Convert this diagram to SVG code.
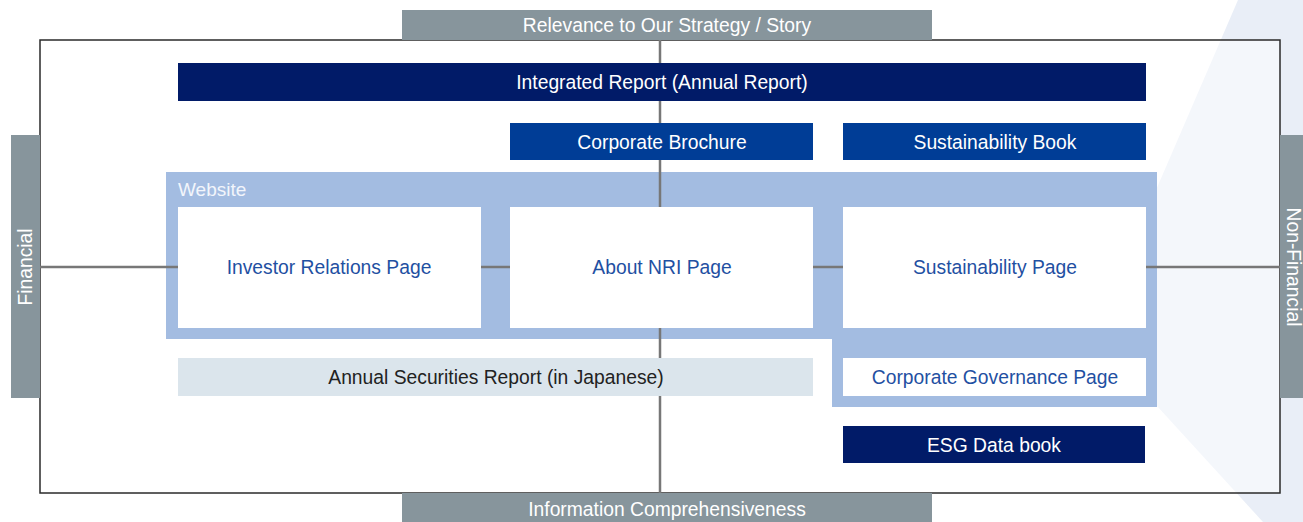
<svg xmlns="http://www.w3.org/2000/svg" width="1303" height="522" viewBox="0 0 1303 522">
<style>
text{font-family:"Liberation Sans",Arial,sans-serif;font-size:19.3px;text-anchor:middle;dominant-baseline:central}
.lab{fill:#87959c}
.labt{fill:#ffffff}
.dark{fill:#011b68}
.mid{fill:#003d96}
.wt{fill:#ffffff}
.page{fill:#ffffff}
.pt{fill:#1f50a2}
.axis{stroke:#777;stroke-width:2.5;fill:none}
</style>
<rect width="1303" height="522" fill="#ffffff"/>
<polygon points="1238,0 1303,0 1303,522 1263,522 1093,336" fill="#e9eef7"/>
<rect x="40" y="40" width="1240" height="453" fill="#ffffff" fill-opacity="0.5" stroke="#2a2a2a" stroke-width="1.5"/>
<g id="website">
<polygon points="166,172 1157,172 1157,407 832,407 832,339 166,339" fill="#a3bce1"/>
<text x="178" y="189" style="text-anchor:start;font-size:19px" fill="#f2f5fb">Website</text>
</g>
<g id="connectors">
<line class="axis" x1="660" y1="40" x2="660" y2="493"/>
<line class="axis" x1="40" y1="267" x2="1280" y2="267"/>
</g>
<g id="top-label"><rect class="lab" x="402" y="10" width="530" height="30"/><text class="labt" x="667" y="25">Relevance to Our Strategy / Story</text></g>
<g id="bottom-label"><rect class="lab" x="402" y="493" width="530" height="29"/><text class="labt" x="667" y="509">Information Comprehensiveness</text></g>
<g id="left-label"><rect class="lab" x="11" y="135" width="29" height="263"/><text class="labt" transform="translate(25,267) rotate(-90)">Financial</text></g>
<g id="right-label"><rect class="lab" x="1280" y="135" width="23" height="263"/><text class="labt" transform="translate(1293,267) rotate(90)">Non-Financial</text></g>
<g id="integrated-report"><rect class="dark" x="178" y="63" width="968" height="38"/><text class="wt" x="662" y="82">Integrated Report (Annual Report)</text></g>
<g id="corporate-brochure"><rect class="mid" x="510" y="123" width="303" height="37"/><text class="wt" x="662" y="142">Corporate Brochure</text></g>
<g id="sustainability-book"><rect class="mid" x="843" y="123" width="303" height="37"/><text class="wt" x="995" y="142">Sustainability Book</text></g>
<g id="investor-relations"><rect class="page" x="178" y="207" width="303" height="121"/><text class="pt" x="329" y="267">Investor Relations Page</text></g>
<g id="about-nri"><rect class="page" x="510" y="207" width="303" height="121"/><text class="pt" x="662" y="267">About NRI Page</text></g>
<g id="sustainability-page"><rect class="page" x="843" y="207" width="303" height="121"/><text class="pt" x="995" y="267">Sustainability Page</text></g>
<g id="corporate-governance"><rect class="page" x="843" y="358" width="303" height="38"/><text class="pt" x="995" y="377">Corporate Governance Page</text></g>
<g id="annual-securities"><rect x="178" y="358" width="635" height="38" fill="#dbe5ec"/><text x="496" y="377" fill="#222222">Annual Securities Report (in Japanese)</text></g>
<g id="esg-data"><rect class="dark" x="843" y="426" width="302" height="37"/><text class="wt" x="994" y="445">ESG Data book</text></g>
</svg>
